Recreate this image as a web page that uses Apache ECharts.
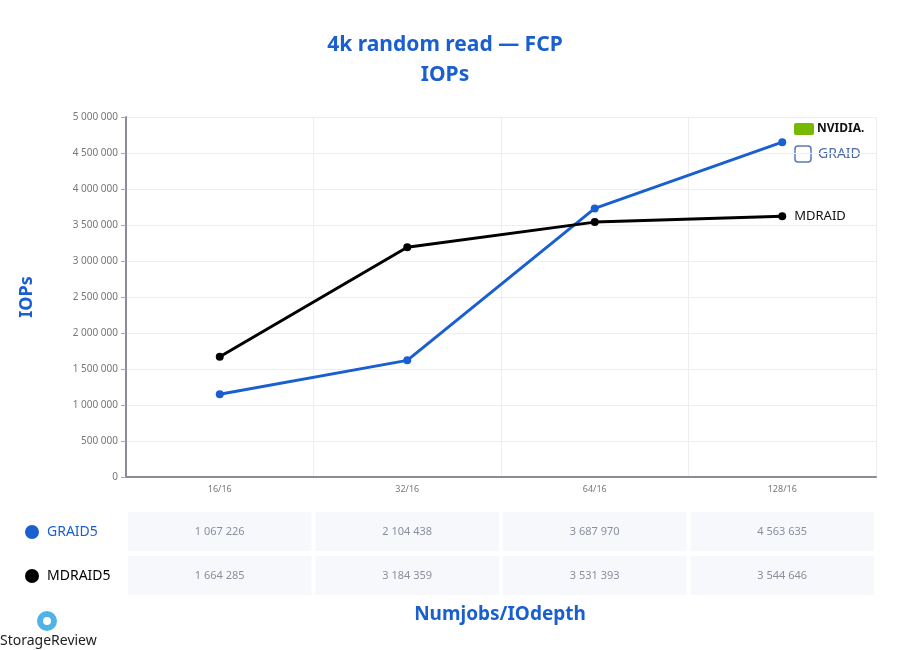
<!DOCTYPE html>
<html><head><meta charset="utf-8">
<script src="https://cdn.jsdelivr.net/npm/echarts@6/dist/echarts.min.js"></script>
<style>html,body{margin:0;background:#fff}#c{width:900px;height:650px}</style>
</head><body><div id="c"></div>
<script>
const categories = ['16/16','32/16','64/16','128/16'];
const graidPlot = [1150000, 1620000, 3730000, 4650000];
const mdraidPlot = [1670000, 3190000, 3540000, 3620000];
const graidTable = ['1 067 226','2 104 438','3 687 970','4 563 635'];
const mdraidTable = ['1 664 285','3 184 359','3 531 393','3 544 646'];
const BLUE = '#1a5fd0';

const chart = echarts.init(document.getElementById('c'));
const fmt = v => String(v).replace(/\B(?=(\d{3})+(?!\d))/g, ' ');
const L = 126, R = 876, T = 117, B = 477;
const cellW = (R - L) / 4;
const g = [];
[[graidTable, 512, 'GRAID5', BLUE], [mdraidTable, 556, 'MDRAID5', '#000']].forEach(([arr, y, name, col]) => {
  g.push({type:'circle', shape:{cx:32, cy:y+20, r:7}, style:{fill:col}});
  g.push({type:'text', x:47, y:y+20, style:{text:name, fill:col, font:'14px "Noto Sans"', verticalAlign:'middle'}});
  arr.forEach((t, i) => {
    const x = L + i*cellW + 2;
    g.push({type:'rect', shape:{x:x, y:y, width:cellW-4, height:39}, style:{fill:'#f6f8fc'}});
    g.push({type:'text', x:x+(cellW-4)/2, y:y+20, style:{text:t, fill:'#8a8f9c', font:'11px "Noto Sans"', align:'center', verticalAlign:'middle'}});
  });
});
g.push({type:'text', x:500, y:615, style:{text:'Numjobs/IOdepth', fill:BLUE, font:'bold 19px "Noto Sans"', align:'center', verticalAlign:'middle'}});
g.push({type:'circle', shape:{cx:47, cy:621, r:10}, style:{fill:'#4fb3ea'}});
g.push({type:'circle', shape:{cx:47, cy:621, r:4}, style:{fill:'#fff'}});
g.push({type:'text', x:0, y:641, style:{text:'StorageReview', fill:'#222', font:'14px "Noto Sans"', verticalAlign:'middle'}});
g.push({type:'rect', shape:{x:794, y:123, width:20, height:12, r:2}, style:{fill:'#76b900'}});
g.push({type:'text', x:817, y:129, style:{text:'NVIDIA.', fill:'#111', font:'bold 12px "Noto Sans"', verticalAlign:'middle'}});
g.push({type:'rect', shape:{x:795, y:146, width:16, height:16, r:3}, style:{fill:'none', stroke:'#5a78b8', lineWidth:1.5}});
g.push({type:'text', x:818, y:154, style:{text:'GRAID', fill:'#4a6aa8', font:'14px "Noto Sans"', verticalAlign:'middle'}});

chart.setOption({
  animation:false,
  title:{text:'4k random read — FCP\nIOPs', left:440, top:25, textAlign:'center',
    textStyle:{color:BLUE, fontSize:21, fontWeight:'bold', fontFamily:'Noto Sans', lineHeight:30}},
  grid:{left:L, right:900-R, top:T, bottom:650-B},
  xAxis:{type:'category', data:categories, boundaryGap:true,
    axisLine:{lineStyle:{color:'#8a8a9a', width:2}},
    axisTick:{alignWithLabel:true, lineStyle:{color:'#ccc'}},
    axisLabel:{color:'#777', fontSize:9, fontFamily:'Noto Sans'},
    splitLine:{show:true, lineStyle:{color:'#eee'}}},
  yAxis:{type:'value', min:0, max:5000000, interval:500000, name:'IOPs', nameLocation:'middle', nameGap:90,
    nameTextStyle:{color:BLUE, fontSize:18, fontWeight:'bold', fontFamily:'Noto Sans'},
    axisLine:{show:true, lineStyle:{color:'#8a8a9a', width:2}},
    axisTick:{show:true, lineStyle:{color:'#aaa'}},
    axisLabel:{color:'#777', fontSize:10, fontFamily:'Noto Sans', formatter:fmt},
    splitLine:{lineStyle:{color:'#eee'}}},
  series:[
    {name:'GRAID5', type:'line', data:graidPlot, symbol:'circle', symbolSize:8,
      lineStyle:{color:BLUE, width:3}, itemStyle:{color:BLUE}},
    {name:'MDRAID5', type:'line', data:mdraidPlot, symbol:'circle', symbolSize:8,
      lineStyle:{color:'#000', width:3}, itemStyle:{color:'#000'},
      endLabel:{show:true, formatter:'MDRAID', color:'#111', fontSize:13, fontFamily:'Noto Sans', distance:12}}
  ],
  graphic:g
});
</script></body></html>
